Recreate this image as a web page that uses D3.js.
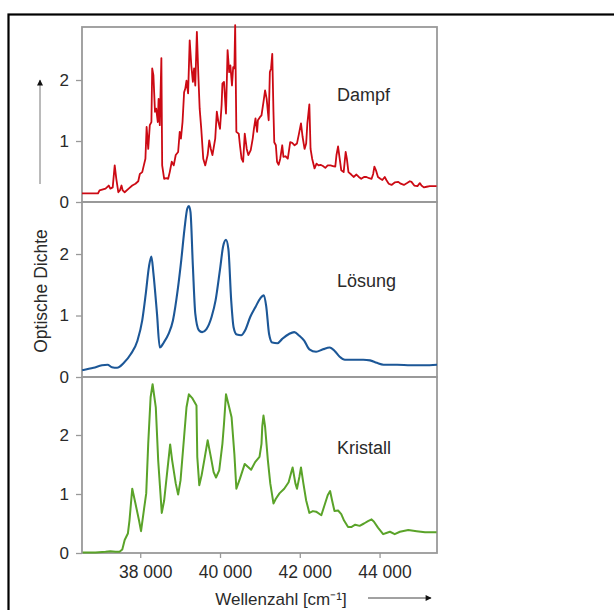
<!DOCTYPE html>
<html>
<head>
<meta charset="utf-8">
<script src="https://cdn.jsdelivr.net/npm/d3@7"></script>
<style>
  html, body { margin: 0; padding: 0; background: #fff; }
  svg { display: block; }
  text { font-family: "Liberation Sans", Arial, Helvetica, sans-serif; fill: #2a2a2a; }
</style>
</head>
<body>
<svg id="chart" width="614" height="610"></svg>
<script>
// ---------- data ----------
const xTicks = [38000, 40000, 42000, 44000];
const yTicks = [0, 1, 2];
const seriesNames = ["Dampf", "Lösung", "Kristall"];
const xLabel = "Wellenzahl [cm\u207B\u00B9]";
const yLabel = "Optische Dichte";

// [wavenumber cm^-1, optical density]
const dampf = [[36540,0.14],[36940,0.14],[36980,0.19],[37130,0.22],[37210,0.27],[37250,0.22],[37310,0.24],[37360,0.60],[37400,0.38],[37450,0.16],[37490,0.19],[37530,0.27],[37560,0.19],[37610,0.16],[37710,0.22],[37800,0.27],[37880,0.30],[37950,0.34],[37990,0.46],[38050,0.49],[38090,0.60],[38130,0.71],[38160,1.23],[38200,0.87],[38240,1.26],[38280,1.31],[38300,2.19],[38330,2.08],[38370,1.48],[38400,1.53],[38440,1.31],[38460,1.69],[38490,1.26],[38530,2.36],[38550,0.60],[38600,0.38],[38650,0.39],[38700,0.38],[38740,0.49],[38790,0.66],[38840,0.60],[38890,0.77],[38950,0.82],[38990,1.15],[39020,1.04],[39060,1.31],[39100,1.80],[39130,1.86],[39160,1.99],[39200,1.78],[39240,2.65],[39280,2.24],[39320,1.97],[39350,2.19],[39380,1.91],[39420,2.79],[39460,2.02],[39490,1.53],[39530,1.20],[39580,0.71],[39630,0.60],[39690,0.77],[39730,1.01],[39770,0.87],[39810,0.77],[39880,1.04],[39920,1.48],[39960,1.31],[40000,1.20],[40040,1.59],[40060,1.94],[40100,1.97],[40150,1.45],[40190,2.49],[40230,2.13],[40260,2.24],[40300,1.91],[40330,2.21],[40360,2.19],[40380,2.90],[40410,1.15],[40470,1.12],[40500,0.93],[40540,0.71],[40580,0.66],[40620,1.12],[40670,0.87],[40710,0.77],[40770,0.85],[40820,1.04],[40850,1.20],[40890,1.37],[40930,1.15],[40950,1.34],[41000,1.39],[41040,1.42],[41090,1.64],[41130,1.83],[41170,1.69],[41220,1.34],[41250,2.13],[41280,2.19],[41310,2.43],[41340,1.48],[41360,0.98],[41400,0.93],[41430,0.66],[41470,0.61],[41510,0.71],[41560,0.93],[41590,0.74],[41640,0.75],[41700,0.71],[41760,0.98],[41810,0.97],[41870,0.93],[41930,0.96],[41980,1.12],[42030,1.29],[42070,1.07],[42120,0.87],[42160,0.96],[42190,1.29],[42240,1.60],[42270,0.87],[42310,0.71],[42370,0.55],[42420,0.63],[42470,0.60],[42520,0.61],[42580,0.59],[42640,0.56],[42700,0.60],[42770,0.60],[42830,0.59],[42890,0.58],[42920,0.77],[42960,0.91],[43000,0.71],[43040,0.52],[43100,0.49],[43150,0.82],[43180,0.71],[43220,0.49],[43290,0.45],[43350,0.41],[43420,0.45],[43480,0.41],[43540,0.38],[43610,0.41],[43670,0.41],[43740,0.39],[43800,0.38],[43840,0.46],[43870,0.58],[43910,0.52],[43960,0.41],[44020,0.38],[44070,0.36],[44130,0.41],[44170,0.36],[44230,0.30],[44300,0.28],[44380,0.32],[44470,0.33],[44530,0.30],[44610,0.28],[44690,0.31],[44760,0.34],[44800,0.33],[44870,0.27],[44950,0.26],[45010,0.31],[45050,0.27],[45110,0.24],[45180,0.25],[45260,0.26],[45350,0.26],[45430,0.26]];

const loesung = [[36545,0.11],[36830,0.15],[37040,0.19],[37180,0.20],[37290,0.16],[37420,0.15],[37590,0.23],[37760,0.37],[37930,0.59],[38050,0.92],[38140,1.36],[38220,1.80],[38280,1.96],[38330,1.69],[38420,1.03],[38490,0.48],[38590,0.56],[38710,0.70],[38820,0.92],[38940,1.42],[39030,1.91],[39110,2.41],[39180,2.74],[39220,2.78],[39260,2.68],[39320,1.80],[39380,1.03],[39470,0.76],[39550,0.73],[39660,0.78],[39790,0.98],[39890,1.25],[40000,1.75],[40080,2.13],[40150,2.23],[40210,2.08],[40280,1.25],[40340,0.81],[40420,0.69],[40530,0.68],[40630,0.76],[40760,0.98],[40890,1.14],[41010,1.28],[41100,1.33],[41160,1.14],[41230,0.70],[41310,0.56],[41440,0.55],[41560,0.62],[41730,0.70],[41860,0.73],[41990,0.67],[42110,0.59],[42240,0.45],[42410,0.41],[42580,0.45],[42750,0.48],[42880,0.42],[43000,0.33],[43130,0.28],[43340,0.28],[43590,0.28],[43760,0.27],[43930,0.23],[44100,0.20],[44440,0.20],[44780,0.19],[45120,0.19],[45440,0.20]];

const kristall = [[36560,0.01],[36880,0.01],[37130,0.02],[37250,0.03],[37380,0.02],[37480,0.02],[37550,0.06],[37610,0.22],[37690,0.33],[37730,0.55],[37800,1.09],[37880,0.84],[37970,0.55],[38020,0.37],[38090,0.72],[38150,1.01],[38200,1.85],[38260,2.64],[38310,2.86],[38390,2.47],[38450,1.57],[38540,0.68],[38600,0.89],[38680,1.40],[38750,1.84],[38800,1.57],[38890,1.18],[38950,0.99],[39010,1.23],[39100,1.97],[39160,2.47],[39220,2.69],[39310,2.62],[39410,2.50],[39430,1.63],[39480,1.15],[39540,1.32],[39620,1.63],[39690,1.91],[39770,1.63],[39840,1.37],[39900,1.28],[39980,1.40],[40060,1.85],[40100,2.19],[40150,2.69],[40230,2.47],[40290,2.30],[40360,1.68],[40410,1.09],[40500,1.26],[40620,1.51],[40780,1.41],[40880,1.54],[40990,1.63],[41040,1.85],[41060,2.15],[41090,2.33],[41130,2.14],[41200,1.57],[41260,1.18],[41340,0.84],[41400,0.92],[41490,1.01],[41610,1.09],[41720,1.20],[41780,1.35],[41820,1.45],[41890,1.18],[41930,1.09],[41990,1.29],[42030,1.45],[42090,1.18],[42160,0.89],[42240,0.68],[42330,0.71],[42410,0.70],[42540,0.64],[42620,0.81],[42700,0.98],[42760,1.05],[42810,0.89],[42870,0.71],[42960,0.72],[43040,0.66],[43110,0.55],[43210,0.44],[43290,0.44],[43390,0.48],[43500,0.46],[43610,0.50],[43710,0.54],[43800,0.57],[43860,0.53],[43960,0.43],[44090,0.32],[44170,0.34],[44260,0.36],[44380,0.32],[44510,0.36],[44720,0.39],[44930,0.37],[45140,0.35],[45430,0.35]];

// ---------- layout ----------
const svg = d3.select("#chart");
const left = 82, right = 437;
const panels = [
  { name: seriesNames[0], data: dampf,    top: 27,  bottom: 202, ymax: 2.869, color: "#cc0a14", curve: d3.curveLinear,     width: 1.8, labelY: 101 },
  { name: seriesNames[1], data: loesung,  top: 202, bottom: 377, ymax: 2.846, color: "#1c5797", curve: d3.curveMonotoneX,  width: 2.1, labelY: 287 },
  { name: seriesNames[2], data: kristall, top: 377, bottom: 553, ymax: 2.983, color: "#5aa329", curve: d3.curveLinear,     width: 2.0, labelY: 454 }
];

const x = d3.scaleLinear().domain([36540, 45440]).range([left, right]);

// outer black frame
svg.append("rect")
  .attr("x", 8.5).attr("y", 14.5).attr("width", 700).attr("height", 700)
  .attr("fill", "none").attr("stroke", "#000").attr("stroke-width", 2.2);

const boxColor = "#999";

panels.forEach(p => {
  const y = d3.scaleLinear().domain([0, p.ymax]).range([p.bottom, p.top]);
  const g = svg.append("g");

  g.append("rect")
    .attr("x", left).attr("y", p.top)
    .attr("width", right - left).attr("height", p.bottom - p.top)
    .attr("fill", "none").attr("stroke", boxColor).attr("stroke-width", 1.8);

  const yAxis = d3.axisLeft(y).tickValues(yTicks).tickSize(6).tickPadding(7).tickFormat(d3.format("d"));
  const ya = g.append("g").attr("transform", `translate(${left},0)`).call(yAxis);
  ya.select(".domain").remove();
  ya.selectAll(".tick line").attr("stroke", boxColor).attr("stroke-width", 1.3);
  ya.selectAll(".tick text")
    .style("font-family", '"Liberation Sans", Arial, sans-serif')
    .style("font-size", "17px").attr("fill", "#333");

  const line = d3.line().x(d => x(d[0])).y(d => y(d[1])).curve(p.curve);
  g.append("path").datum(p.data)
    .attr("d", line).attr("fill", "none")
    .attr("stroke", p.color).attr("stroke-width", p.width)
    .attr("stroke-linejoin", "round");

  g.append("text").attr("x", 337).attr("y", p.labelY)
    .style("font-size", "18px").attr("fill", "#222").text(p.name);
});

// x axis
const xAxis = d3.axisBottom(x).tickValues(xTicks).tickSize(5).tickPadding(8)
  .tickFormat(d => d3.format(",")(d).replace(",", " "));
const xa = svg.append("g").attr("transform", `translate(0,553)`).call(xAxis);
xa.select(".domain").remove();
xa.selectAll(".tick line").attr("stroke", boxColor).attr("stroke-width", 1.3);
xa.selectAll(".tick text")
  .attr("dx", 5)
  .style("font-family", '"Liberation Sans", Arial, sans-serif')
  .style("font-size", "17.5px").attr("fill", "#333");

// x label and arrow
svg.append("text").attr("x", 281).attr("y", 605).attr("text-anchor", "middle")
  .style("font-size", "17px").attr("fill", "#333").text(xLabel);

const defs = svg.append("defs");
defs.append("marker").attr("id", "ah").attr("viewBox", "0 0 10 10")
  .attr("refX", 9).attr("refY", 5).attr("markerWidth", 8).attr("markerHeight", 6)
  .attr("markerUnits", "userSpaceOnUse").attr("orient", "auto")
  .append("path").attr("d", "M0,0 L10,5 L0,10 z").attr("fill", "#111");

svg.append("line").attr("x1", 368).attr("y1", 598).attr("x2", 431).attr("y2", 598)
  .attr("stroke", "#444").attr("stroke-width", 1).attr("marker-end", "url(#ah)");

// y label and arrow
svg.append("text")
  .attr("transform", "translate(47,291) rotate(-90)")
  .attr("text-anchor", "middle")
  .style("font-size", "17.5px").attr("fill", "#333").text(yLabel);

svg.append("line").attr("x1", 40).attr("y1", 184).attr("x2", 40).attr("y2", 80)
  .attr("stroke", "#777").attr("stroke-width", 1).attr("marker-end", "url(#ah)");
</script>
</body>
</html>
